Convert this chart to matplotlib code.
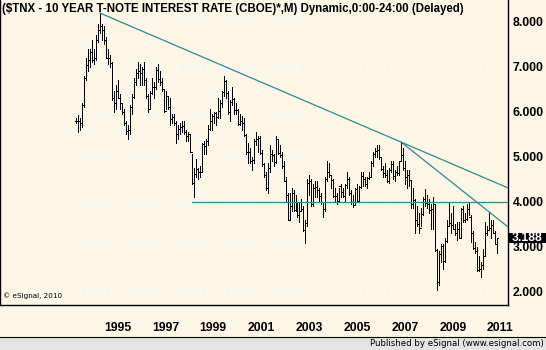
import numpy as np
import pandas as pd
import matplotlib
matplotlib.use("Agg")
from matplotlib import pyplot as plt
from matplotlib import transforms
from matplotlib.patches import Rectangle
from matplotlib.lines import Line2D

# monthly OHLC of $TNX / 10, Nov 1993 .. Jun 2011
months = pd.period_range("1993-11", "2011-06", freq="M")

highs = [
    5.86, 5.93,
    5.85, 6.20, 6.80, 7.20, 7.40, 7.40, 7.60, 7.40, 7.70, 7.95, 8.19, 7.95,
    7.90, 7.65, 7.40, 7.25, 7.10, 6.45, 6.60, 6.70, 6.40, 6.20, 6.05, 5.80,
    5.70, 6.15, 6.40, 6.75, 6.95, 7.10, 7.05, 7.00, 7.10, 6.75, 6.40, 6.45,
    6.75, 6.65, 7.00, 7.05, 6.90, 6.75, 6.50, 6.45, 6.35, 6.30, 5.95, 5.95,
    5.80, 5.70, 5.75, 5.80, 5.80, 5.60, 5.55, 5.50, 5.05, 4.75, 4.95, 4.75,
    4.80, 5.30, 5.35, 5.40, 5.70, 6.05, 5.95, 6.00, 6.00, 6.30, 6.25, 6.45,
    6.79, 6.70, 6.45, 6.25, 6.55, 6.30, 6.20, 6.05, 5.95, 5.90, 5.85, 5.50,
    5.30, 5.20, 5.00, 5.40, 5.55, 5.45, 5.45, 5.15, 4.85, 4.65, 4.85, 5.25,
    5.15, 5.05, 5.45, 5.40, 5.25, 5.10, 4.90, 4.55, 4.20, 4.20, 4.30, 4.25,
    4.15, 4.00, 4.00, 4.05, 3.90, 3.60, 4.50, 4.60, 4.50, 4.40, 4.45, 4.45,
    4.30, 4.20, 4.00, 4.55, 4.90, 4.85, 4.60, 4.50, 4.30, 4.20, 4.30, 4.40,
    4.30, 4.40, 4.65, 4.55, 4.25, 4.15, 4.30, 4.40, 4.35, 4.65, 4.65, 4.55,
    4.55, 4.65, 4.90, 5.10, 5.20, 5.25, 5.25, 5.00, 4.80, 4.85, 4.70, 4.75,
    4.90, 4.90, 4.70, 4.80, 4.90, 5.32, 5.20, 4.90, 4.70, 4.70, 4.45, 4.30,
    4.05, 3.90, 3.75, 3.85, 4.10, 4.27, 4.15, 4.05, 3.95, 4.10, 3.95, 2.95,
    2.90, 3.05, 3.05, 3.20, 3.60, 4.00, 3.75, 3.90, 3.50, 3.55, 3.55, 3.85,
    3.90, 3.75, 3.95, 4.00, 3.70, 3.35, 3.10, 3.00, 2.80, 2.65, 2.95, 3.55,
    3.45, 3.77, 3.60, 3.60, 3.35, 3.20,
]
lows = [
    5.75, 5.55,
    5.60, 5.65, 6.10, 6.70, 6.90, 7.00, 7.10, 7.05, 7.15, 7.55, 7.75, 7.60,
    7.50, 7.20, 7.05, 7.00, 6.25, 6.00, 6.05, 6.30, 6.05, 5.95, 5.70, 5.50,
    5.38, 5.50, 5.95, 6.30, 6.60, 6.75, 6.60, 6.60, 6.60, 6.30, 6.00, 6.05,
    6.40, 6.30, 6.50, 6.65, 6.60, 6.45, 6.00, 6.05, 6.05, 5.70, 5.75, 5.70,
    5.30, 5.40, 5.50, 5.55, 5.50, 5.35, 5.35, 5.10, 4.40, 4.11, 4.55, 4.50,
    4.55, 4.65, 5.05, 5.05, 5.25, 5.60, 5.60, 5.75, 5.70, 5.85, 5.85, 6.10,
    6.35, 6.30, 5.95, 5.80, 6.15, 5.95, 5.95, 5.70, 5.70, 5.60, 5.45, 5.05,
    4.85, 4.85, 4.70, 4.85, 5.25, 5.10, 5.05, 4.80, 4.55, 4.25, 4.20, 4.65,
    4.90, 4.80, 4.85, 5.05, 5.00, 4.75, 4.45, 4.00, 3.60, 3.60, 3.80, 3.80,
    3.80, 3.65, 3.55, 3.80, 3.35, 3.07, 3.45, 4.15, 3.90, 3.90, 4.10, 4.10,
    4.00, 3.95, 3.65, 3.80, 4.45, 4.55, 4.30, 4.10, 4.00, 3.95, 4.00, 4.10,
    4.10, 4.00, 4.30, 4.15, 3.95, 3.88, 3.95, 4.00, 4.00, 4.30, 4.35, 4.35,
    4.30, 4.50, 4.55, 4.80, 5.00, 5.00, 4.95, 4.70, 4.55, 4.55, 4.43, 4.42,
    4.65, 4.50, 4.45, 4.60, 4.60, 4.90, 4.70, 4.40, 4.30, 4.35, 3.85, 3.85,
    3.30, 3.45, 3.30, 3.45, 3.70, 3.90, 3.85, 3.75, 3.40, 3.40, 2.90, 2.04,
    2.15, 2.65, 2.50, 2.65, 3.10, 3.45, 3.30, 3.40, 3.25, 3.15, 3.20, 3.20,
    3.55, 3.55, 3.60, 3.70, 3.10, 2.95, 2.85, 2.45, 2.45, 2.33, 2.50, 2.80,
    3.25, 3.40, 3.20, 3.30, 3.05, 2.85,
]
opens = [
    5.78, 5.80,
    5.79, 5.75, 6.15, 6.74, 7.04, 7.15, 7.33, 7.15, 7.20, 7.60, 7.81, 7.91,
    7.82, 7.60, 7.20, 7.20, 7.07, 6.30, 6.20, 6.45, 6.30, 6.20, 6.00, 5.75,
    5.57, 5.60, 6.10, 6.33, 6.66, 6.85, 6.90, 6.85, 6.95, 6.70, 6.35, 6.05,
    6.42, 6.55, 6.55, 6.92, 6.72, 6.66, 6.50, 6.02, 6.34, 6.10, 5.83, 5.87,
    5.74, 5.50, 5.62, 5.66, 5.67, 5.55, 5.45, 5.50, 5.10, 4.42, 4.61, 4.72,
    4.65, 4.65, 5.29, 5.24, 5.35, 5.62, 5.78, 5.90, 5.97, 5.88, 6.02, 6.19,
    6.44, 6.67, 6.41, 6.00, 6.21, 6.27, 6.03, 6.03, 5.73, 5.80, 5.75, 5.47,
    5.11, 5.11, 4.90, 4.92, 5.34, 5.38, 5.41, 5.07, 4.83, 4.59, 4.30, 4.75,
    5.05, 5.03, 4.87, 5.40, 5.08, 5.04, 4.80, 4.46, 4.14, 3.60, 3.89, 4.20,
    3.82, 3.96, 3.69, 3.80, 3.84, 3.37, 3.52, 4.41, 4.46, 3.94, 4.29, 4.33,
    4.25, 4.13, 3.98, 3.84, 4.50, 4.65, 4.58, 4.48, 4.12, 4.12, 4.02, 4.35,
    4.22, 4.13, 4.36, 4.49, 4.20, 4.00, 3.92, 4.28, 4.02, 4.33, 4.56, 4.49,
    4.39, 4.52, 4.55, 4.85, 5.05, 5.12, 5.14, 4.98, 4.73, 4.63, 4.60, 4.46,
    4.70, 4.83, 4.56, 4.65, 4.63, 4.89, 5.03, 4.74, 4.54, 4.59, 4.47, 3.94,
    4.03, 3.60, 3.51, 3.41, 3.73, 4.06, 3.97, 3.95, 3.81, 3.83, 3.95, 2.92,
    2.22, 2.84, 3.02, 2.67, 3.12, 3.46, 3.53, 3.48, 3.40, 3.31, 3.38, 3.20,
    3.84, 3.60, 3.61, 3.83, 3.66, 3.29, 2.97, 2.91, 2.47, 2.51, 2.60, 2.80,
    3.29, 3.37, 3.42, 3.47, 3.29, 3.06,
]
closes = [
    5.80, 5.79,
    5.75, 6.15, 6.74, 7.04, 7.15, 7.33, 7.15, 7.20, 7.60, 7.81, 7.91, 7.82,
    7.60, 7.20, 7.20, 7.07, 6.30, 6.20, 6.45, 6.30, 6.20, 6.00, 5.75, 5.57,
    5.60, 6.10, 6.33, 6.66, 6.85, 6.90, 6.85, 6.95, 6.70, 6.35, 6.05, 6.42,
    6.55, 6.55, 6.92, 6.72, 6.66, 6.50, 6.02, 6.34, 6.10, 5.83, 5.87, 5.74,
    5.50, 5.62, 5.66, 5.67, 5.55, 5.45, 5.50, 5.10, 4.42, 4.61, 4.72, 4.65,
    4.65, 5.29, 5.24, 5.35, 5.62, 5.78, 5.90, 5.97, 5.88, 6.02, 6.19, 6.44,
    6.67, 6.41, 6.00, 6.21, 6.27, 6.03, 6.03, 5.73, 5.80, 5.75, 5.47, 5.11,
    5.11, 4.90, 4.92, 5.34, 5.38, 5.41, 5.07, 4.83, 4.59, 4.30, 4.75, 5.05,
    5.03, 4.87, 5.40, 5.08, 5.04, 4.80, 4.46, 4.14, 3.60, 3.89, 4.20, 3.82,
    3.96, 3.69, 3.80, 3.84, 3.37, 3.52, 4.41, 4.46, 3.94, 4.29, 4.33, 4.25,
    4.13, 3.98, 3.84, 4.50, 4.65, 4.58, 4.48, 4.12, 4.12, 4.02, 4.35, 4.22,
    4.13, 4.36, 4.49, 4.20, 4.00, 3.92, 4.28, 4.02, 4.33, 4.56, 4.49, 4.39,
    4.52, 4.55, 4.85, 5.05, 5.12, 5.14, 4.98, 4.73, 4.63, 4.60, 4.46, 4.70,
    4.83, 4.56, 4.65, 4.63, 4.89, 5.03, 4.74, 4.54, 4.59, 4.47, 3.94, 4.03,
    3.60, 3.51, 3.41, 3.73, 4.06, 3.97, 3.95, 3.81, 3.83, 3.95, 2.92, 2.22,
    2.84, 3.02, 2.67, 3.12, 3.46, 3.53, 3.48, 3.40, 3.31, 3.38, 3.20, 3.84,
    3.60, 3.61, 3.83, 3.66, 3.29, 2.97, 2.91, 2.47, 2.51, 2.60, 2.80, 3.29,
    3.37, 3.42, 3.47, 3.29, 3.06, 3.188,
]

# trend lines drawn on the chart (anchor month, value)
trend_top = [("1994-11", 8.19), ("2007-06", 5.32)]
trend_low = [("2007-06", 5.32), ("2011-02", 3.77)]
support_start = "1998-09"
support_level = 4.0

year_labels = ["1995", "1997", "1999", "2001", "2003", "2005", "2007", "2009", "2011"]
price_levels = [2, 3, 4, 5, 6, 7, 8]

title = "($TNX - 10 YEAR T-NOTE INTEREST RATE (CBOE)*,M) Dynamic,0:00-24:00 (Delayed)"

BG = "#fdf6e6"
TEAL = "#2a8c8c"
W, H = 546, 350


def pos(label):
    return months.get_loc(pd.Period(label, "M"))


x = np.arange(len(months))
xmin, xmax = -38.1, 216.5

fig = plt.figure(figsize=(W / 100, H / 100), dpi=100, facecolor=BG)
ax = fig.add_axes([0, 45 / H, 508 / W, 305 / H], facecolor=BG)
ax.set_xlim(xmin, xmax)
ax.set_ylim(1.70, 8.48)

# faint dotted grid
for v in price_levels:
    ax.axhline(v, color="white", lw=0.8, ls=(0, (1, 2)), zorder=0)
for yr in range(1994, 2012):
    ax.axvline(pos(f"{yr}-01"), color="white", lw=0.8, ls=(0, (1, 2)), zorder=0)

# OHLC bars, 1px wide like the original bitmap
bar_style = dict(color="black", lw=0.72, zorder=3, antialiased=False)
ax.vlines(x, lows, highs, **bar_style)
ax.hlines(opens, x - 0.6, x, **bar_style)
ax.hlines(closes, x, x + 0.6, **bar_style)


def extended(points):
    (m1, v1), (m2, v2) = points
    x1, x2 = pos(m1), pos(m2)
    slope = (v2 - v1) / (x2 - x1)
    return [x1, xmax], [v1, v1 + slope * (xmax - x1)]


for pts in (trend_top, trend_low):
    lx, ly = extended(pts)
    ax.plot(lx, ly, color=TEAL, lw=0.9, zorder=4)
ax.plot([pos(support_start), xmax], [support_level, support_level], color=TEAL, lw=0.9, zorder=4)

ax.spines["top"].set_visible(False)
for side in ["left", "right", "bottom"]:
    ax.spines[side].set_color("black")
    ax.spines[side].set_linewidth(1.0)

lab_font = dict(family="Liberation Sans", weight="bold", size=8.8)

ax.set_xticks([pos(f"{y}-01") for y in year_labels])
ax.set_xticklabels(year_labels, ha="left", **lab_font)
ax.tick_params(axis="x", length=0, pad=12)

ax.yaxis.tick_right()
ax.set_yticks(price_levels)
ax.set_yticklabels([f"{v:.3f}" for v in price_levels], **lab_font)
ax.tick_params(axis="y", length=0, pad=3.5)

# last value tag, drawn over the axis labels as in the original
last = closes[-1]
tr = transforms.blended_transform_factory(ax.transAxes, ax.transData)
ax.add_patch(Rectangle((1.0, last - 0.12), 38 / 508, 0.24, transform=tr,
                       facecolor="black", edgecolor="none", clip_on=False, zorder=6))
ax.text(1.0 + 4 / 508, last, f"{last:.3f}", transform=tr, color="white",
        va="center", ha="left", clip_on=False, zorder=7, **lab_font)

ax.text(2 / 508, 1 - 9 / 305, title, transform=ax.transAxes, va="center", ha="left",
        family="Liberation Sans", weight="bold", size=8.3, zorder=8)
ax.text(3 / 508, 9 / 305, "\u00a9 eSignal, 2010", transform=ax.transAxes, va="center",
        ha="left", family="DejaVu Sans", size=5.2)

# footer strip
fig.patches.append(Rectangle((0, 0), 1, 13 / H, transform=fig.transFigure,
                             facecolor="#e4e4e4", edgecolor="none"))
fig.lines.append(Line2D([0, 1], [13.5 / H, 13.5 / H], transform=fig.transFigure,
                        color="black", lw=0.8))
fig.text(544 / W, 6.5 / H, "Published by eSignal (www.esignal.com)", ha="right",
         va="center", family="DejaVu Sans", size=6.2)

fig.savefig("out.png", dpi=100, facecolor=BG)
